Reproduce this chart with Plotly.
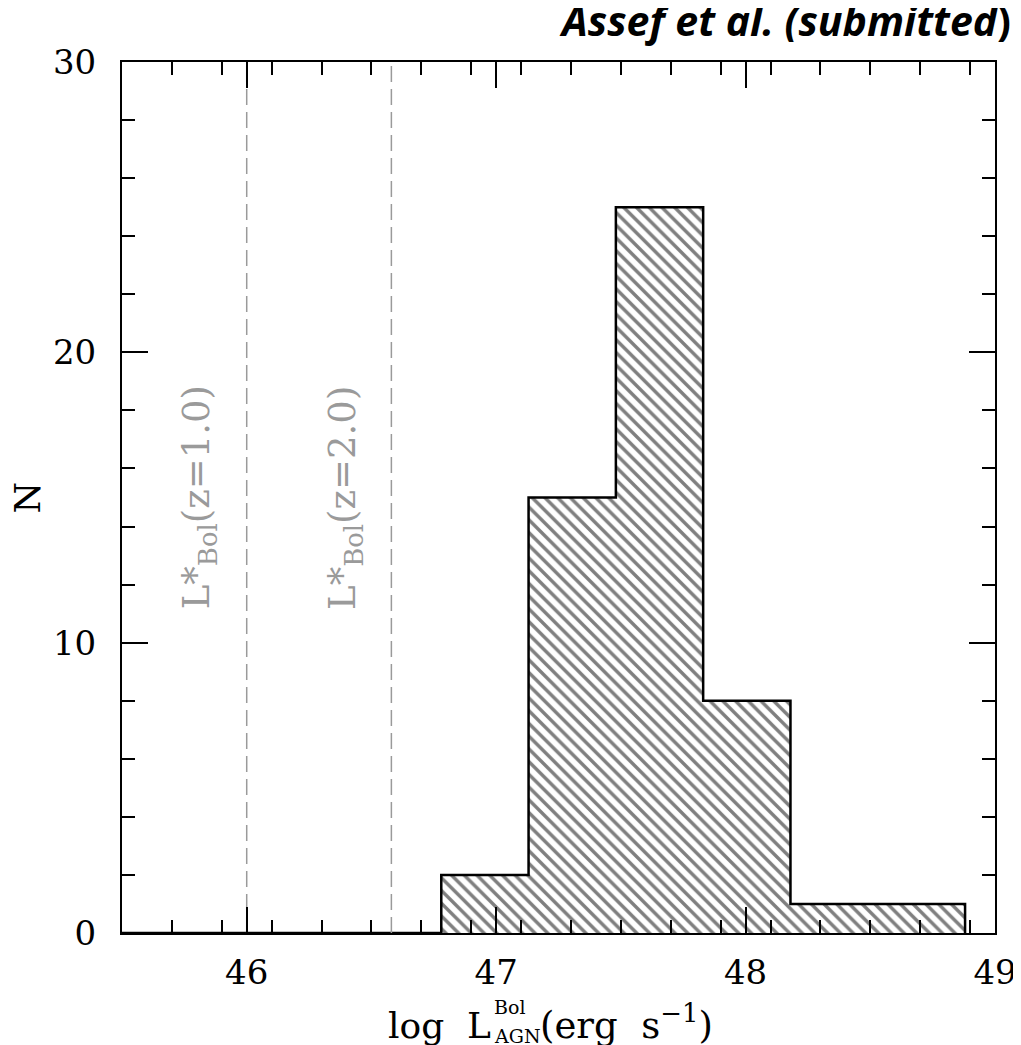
import plotly.graph_objects as go

# ---- data ----
bin_edges = [46.78, 47.13, 47.48, 47.83, 48.18, 48.53, 48.88]
counts = [2, 15, 25, 8, 1, 1]
lstar_values = [46.0, 46.58]
lstar_labels = ["L*<sub>Bol</sub>(z=1.0)", "L*<sub>Bol</sub>(z=2.0)"]
x_ticks = [46, 47, 48, 49]
y_ticks = [0, 10, 20, 30]
x_range = [45.5, 49.0]
y_range = [0, 30]

centers = [(a + b) / 2 for a, b in zip(bin_edges[:-1], bin_edges[1:])]
widths = [b - a for a, b in zip(bin_edges[:-1], bin_edges[1:])]

SERIF = "DejaVu Serif"
GREY = "#9a9a9a"

fig = go.Figure()

# hatched bars
fig.add_trace(go.Bar(
    x=centers, y=counts, width=widths,
    marker=dict(color="white", line=dict(width=0),
                pattern=dict(shape="\\", fgcolor="black", bgcolor="white",
                             size=9, solidity=0.38)),
    hoverinfo="skip", showlegend=False,
))

# step outline
step_x = [x_range[0]] + bin_edges
step_y = [0] + counts + [0]
fig.add_trace(go.Scatter(
    x=step_x, y=step_y, mode="lines", line_shape="hv",
    line=dict(color="black", width=2.5), showlegend=False, hoverinfo="skip",
))

# dashed L* lines
for v in lstar_values:
    fig.add_trace(go.Scatter(
        x=[v, v], y=y_range, mode="lines",
        line=dict(color=GREY, width=1.5, dash="16px,7px"),
        showlegend=False, hoverinfo="skip",
    ))

annotations = []
# L* labels (rotated)
label_x_offsets = [-48, -47]
for v, lab, off in zip(lstar_values, lstar_labels, label_x_offsets):
    annotations.append(dict(
        x=v, y=15.0, xref="x", yref="y", text=lab, textangle=-90,
        showarrow=False, xshift=off, font=dict(family=SERIF, size=37, color=GREY),
    ))

# x-axis title built from pieces (stacked super/subscript)
L = 114; W = 873
def px(xp_screen):
    return (xp_screen - 8 - L) / W

annotations += [
    dict(x=px(493), y=0, xref="paper", yref="paper", text="log  L", xanchor="right",
         yanchor="middle", yshift=-92, showarrow=False,
         font=dict(family=SERIF, size=36, color="black")),
    dict(x=px(492), y=0, xref="paper", yref="paper", text="Bol", xanchor="left",
         yanchor="middle", yshift=-74, showarrow=False,
         font=dict(family=SERIF, size=19, color="black")),
    dict(x=px(492), y=0, xref="paper", yref="paper", text="AGN", xanchor="left",
         yanchor="middle", yshift=-103, showarrow=False,
         font=dict(family=SERIF, size=19, color="black")),
    dict(x=px(538), y=0, xref="paper", yref="paper", text="(erg  s<sup>−1</sup>)",
         xanchor="left", yanchor="middle", yshift=-89, showarrow=False,
         font=dict(family=SERIF, size=37, color="black")),
    dict(x=0, y=0.5, xref="paper", yref="paper", text="N", textangle=-90,
         xanchor="center", yanchor="middle", xshift=-95, showarrow=False,
         font=dict(family=SERIF, size=36, color="black")),
    dict(x=px(1013), y=1, xref="paper", yref="paper",
         text="<b><i>Assef et al. (submitted</i>)</b>", xanchor="right",
         yanchor="middle", yshift=42, showarrow=False,
         font=dict(family="Open Sans", size=41, color="black")),
]

axis_common = dict(
    showline=True, linecolor="black", linewidth=2, mirror="allticks",
    ticks="inside", ticklen=26, tickwidth=2, tickcolor="black",
    showgrid=False, zeroline=False, automargin=False,
    tickfont=dict(family=SERIF, size=34, color="black"),
)

# the page body adds an 8px offset; size the figure so the plot area lands
# at x 122-995, y 62-933 of the 1021x1045 window
fig.update_layout(
    width=1013, height=1037,
    margin=dict(l=114, r=26, t=54, b=112),
    paper_bgcolor="white", plot_bgcolor="white",
    bargap=0, showlegend=False,
    xaxis=dict(range=x_range, tickvals=x_ticks, ticktext=[str(t) for t in x_ticks],
               ticklabelstandoff=8,
               minor=dict(dtick=0.2, tick0=45.5, ticks="inside", ticklen=13,
                          tickwidth=2, tickcolor="black", showgrid=False),
               **axis_common),
    yaxis=dict(range=y_range, tickvals=y_ticks, ticktext=[str(t) for t in y_ticks],
               ticklabelstandoff=17,
               minor=dict(dtick=2, tick0=0, ticks="inside", ticklen=13,
                          tickwidth=2, tickcolor="black", showgrid=False),
               **axis_common),
    annotations=annotations,
)

fig.write_html("out.html")
